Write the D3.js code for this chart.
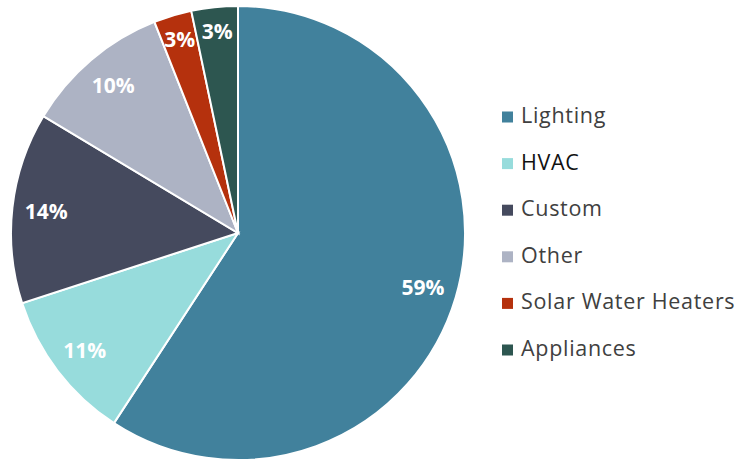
<!DOCTYPE html>
<html>
<head>
<meta charset="utf-8">
<script src="https://cdn.jsdelivr.net/npm/d3@7"></script>
<style>
  body { margin: 0; background: #fff; }
  svg { display: block; font-family: "Open Sans", "Noto Sans", sans-serif; }
</style>
</head>
<body>
<svg id="chart" width="737" height="461"></svg>
<script>
// pie data, clockwise from 12 o'clock
var categories = ['Lighting', 'HVAC', 'Custom', 'Other', 'Solar Water Heaters', 'Appliances'];
var shares = [59.2, 10.8, 13.6, 10.4, 2.7, 3.3];
var pctLabels = ['59%', '11%', '14%', '10%', '3%', '3%'];
var colors = ['#41819c', '#97dcdc', '#454a5e', '#adb3c4', '#b5310d', '#2d5650'];

var svg = d3.select('#chart');
var cx = 238, cy = 233, radius = 227;

var data = categories.map(function (c, i) {
  return { name: c, value: shares[i], label: pctLabels[i], color: colors[i] };
});

var pie = d3.pie().sort(null).value(function (d) { return d.value; });
var arc = d3.arc().innerRadius(0).outerRadius(radius);
var labelArc = d3.arc().innerRadius(193).outerRadius(193);
// thin slices get their label pushed a bit further out
var smallArc = d3.arc().innerRadius(202).outerRadius(202);

var g = svg.append('g').attr('transform', 'translate(' + cx + ',' + cy + ')');

var slices = g.selectAll('g.slice')
  .data(pie(data))
  .enter()
  .append('g')
  .attr('class', 'slice');

slices.append('path')
  .attr('d', arc)
  .attr('fill', function (d) { return d.data.color; })
  .attr('stroke', '#fff')
  .attr('stroke-width', 2);

slices.append('text')
  .attr('transform', function (d) {
    var a = d.data.value < 5 ? smallArc : labelArc;
    return 'translate(' + a.centroid(d) + ')';
  })
  .attr('text-anchor', 'middle')
  .attr('dy', '0.35em')
  .attr('fill', '#fff')
  .attr('font-weight', 'bold')
  .attr('font-size', 21)
  .text(function (d) { return d.data.label; });

// legend
var legend = svg.append('g').attr('transform', 'translate(502,115.5)');
var rowH = 46.6;

var item = legend.selectAll('g')
  .data(data)
  .enter()
  .append('g')
  .attr('transform', function (d, i) { return 'translate(0,' + i * rowH + ')'; });

item.append('rect')
  .attr('x', 0)
  .attr('y', -4)
  .attr('width', 11)
  .attr('height', 11)
  .attr('fill', function (d) { return d.color; });

item.append('text')
  .attr('x', 19)
  .attr('dy', '0.35em')
  .attr('font-size', 21.5)
  .attr('letter-spacing', 0.7)
  .attr('fill', function (d, i) { return i == 1 ? '#111' : '#404040'; })
  .text(function (d) { return d.name; });
</script>
</body>
</html>
